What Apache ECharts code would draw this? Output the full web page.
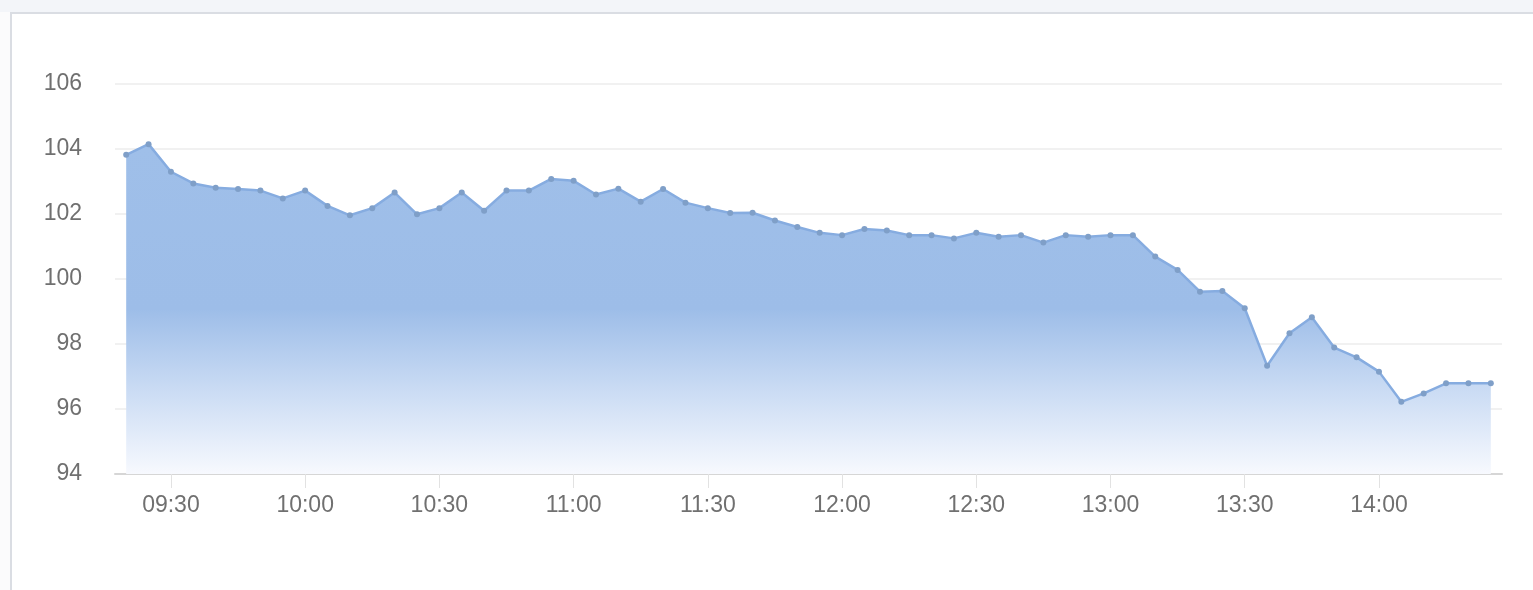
<!DOCTYPE html>
<html>
<head>
<meta charset="utf-8">
<script src="https://cdn.jsdelivr.net/npm/echarts@6/dist/echarts.min.js"></script>
<style>
  html, body { margin: 0; padding: 0; width: 1533px; height: 590px; overflow: hidden; background: #fbfbfc; }
  #topstrip { position: absolute; left: 0; top: 0; width: 1533px; height: 12px; background: #f3f5f9; }
  #frame { position: absolute; left: 10px; top: 12px; width: 1530px; height: 590px; border-left: 2px solid #dadde3; border-top: 2px solid #dadde3; background: #ffffff; }
  #chart { position: absolute; left: 0; top: 0; width: 1533px; height: 590px; }
</style>
</head>
<body>
<div id="topstrip"></div>
<div id="frame"></div>
<div id="chart"></div>
<script>
const categories = [
  '09:20','09:25','09:30','09:35','09:40','09:45','09:50','09:55',
  '10:00','10:05','10:10','10:15','10:20','10:25','10:30','10:35','10:40','10:45','10:50','10:55',
  '11:00','11:05','11:10','11:15','11:20','11:25','11:30','11:35','11:40','11:45','11:50','11:55',
  '12:00','12:05','12:10','12:15','12:20','12:25','12:30','12:35','12:40','12:45','12:50','12:55',
  '13:00','13:05','13:10','13:15','13:20','13:25','13:30','13:35','13:40','13:45','13:50','13:55',
  '14:00','14:05','14:10','14:15','14:20','14:25'
];
const values = [
  103.82, 104.15, 103.30, 102.94, 102.81, 102.77, 102.72, 102.48,
  102.72, 102.25, 101.96, 102.18, 102.66, 101.99, 102.18, 102.66, 102.10, 102.72, 102.72, 103.08,
  103.02, 102.60, 102.78, 102.38, 102.77, 102.35, 102.18, 102.03, 102.04, 101.80, 101.60, 101.42,
  101.35, 101.54, 101.49, 101.35, 101.35, 101.25, 101.42, 101.30, 101.35, 101.12, 101.35, 101.30,
  101.35, 101.35, 100.69, 100.28, 99.61, 99.63, 99.10, 97.33, 98.33, 98.82, 97.89, 97.59,
  97.15, 96.22, 96.48, 96.79, 96.79, 96.79
];
const yMin = 94, yMax = 106, yStep = 2;

const isMajor = (idx, val) => /:(00|30)$/.test(val);

const chart = echarts.init(document.getElementById('chart'), null, { renderer: 'canvas' });
chart.setOption({
  backgroundColor: 'transparent',
  animation: false,
  grid: { left: 115, right: 31, top: 84, bottom: 116, containLabel: false },
  xAxis: {
    type: 'category',
    data: categories,
    boundaryGap: true,
    axisLine: { show: true, lineStyle: { color: '#d6d6d6', width: 2 } },
    axisTick: { show: true, alignWithLabel: true, interval: isMajor, length: 14, lineStyle: { color: '#e2e2e2' } },
    axisLabel: { interval: isMajor, color: '#707070', fontSize: 23, fontFamily: 'Liberation Sans', margin: 20 },
    splitLine: { show: false }
  },
  yAxis: {
    type: 'value',
    min: yMin, max: yMax, interval: yStep,
    axisLine: { show: false },
    axisTick: { show: false },
    axisLabel: { color: '#707070', fontSize: 23, fontFamily: 'Liberation Sans', margin: 33 },
    splitLine: { show: true, lineStyle: { color: '#ececec', width: 1.5 } }
  },
  series: [{
    type: 'line',
    data: values,
    smooth: false,
    symbol: 'circle',
    symbolSize: 6,
    showSymbol: true,
    itemStyle: { color: '#7f9fc8' },
    lineStyle: { color: '#86ace0', width: 2.5 },
    areaStyle: {
      opacity: 1,
      color: new echarts.graphic.LinearGradient(0, 0, 0, 1, [
        { offset: 0, color: '#9fbfe9' },
        { offset: 0.5, color: '#9dbde8' },
        { offset: 0.75, color: '#cbdcf4' },
        { offset: 1, color: '#f7f9fe' }
      ])
    }
  }]
});
</script>
</body>
</html>
